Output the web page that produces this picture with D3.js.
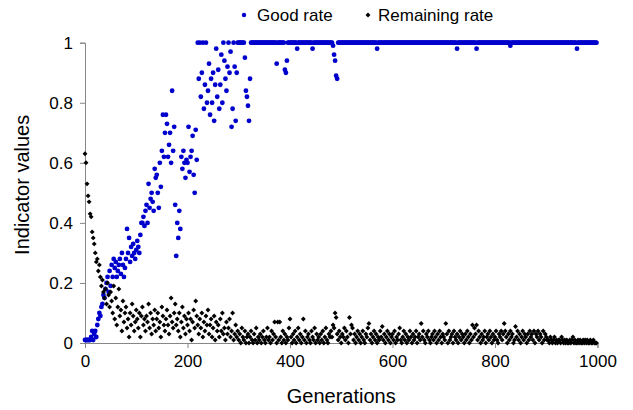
<!DOCTYPE html>
<html>
<head>
<meta charset="utf-8">
<script src="https://cdn.jsdelivr.net/npm/d3@7"></script>
<style>
    body { margin: 0; background: #fff; }
    svg { display: block; font-family: Arial, "Liberation Sans", sans-serif; }
</style>
</head>
<body>
<svg id="chart" width="633" height="410"></svg>
<script>
// values are read every 2 generations (0, 2, 4, ... 998)
var genStep = 2;

var xTicks = [0, 200, 400, 600, 800, 1000];
var yTicks = [0, 0.2, 0.4, 0.6, 0.8, 1];
var seriesNames = ["Good rate", "Remaining rate"];

var goodRate = [
    .01,.01,.01,.01,.01,.01,.02,.04,.01,.03,
    .04,.02,.06,.08,.1,.09,.12,.13,.16,.15,
    .18,.2,.22,.17,.24,.19,.26,.22,.28,.25,
    .27,.22,.24,.26,.28,.23,.3,.26,.22,.25,
    .28,.38,.3,.35,.27,.32,.29,.33,.3,.28,
    .31,.34,.32,.3,.36,.4,.4,.42,.39,.44,
    .46,.4,.53,.45,.48,.5,.47,.44,.58,.55,
    .56,.5,.45,.6,.52,.64,.76,.62,.7,.76,
    .73,.62,.66,.7,.6,.84,.64,.72,.46,.29,
    .4,.35,.44,.38,.62,.58,.64,.6,.55,.61,
    .6,.72,.57,.62,.64,.69,.56,.5,.71,.61,
    1,.88,1,.82,.9,1,.78,.86,1,.8,
    .84,.93,.76,.88,.8,.9,.74,.86,.98,.82,
    .91,.78,.86,.96,.8,1,.94,.88,.84,.92,
    1,.9,.97,.72,.78,1,.92,.74,.9,1,
    1,1,1,1,1,1,.95,.84,.82,.79,
    .74,.88,1,1,1,1,1,1,1,1,
    1,1,1,1,1,1,1,1,1,1,
    1,1,1,1,1,1,1,.93,1,1,
    1,1,1,1,1,.91,.9,.94,1,1,
    1,1,1,1,1,1,1,.98,1,1,
    1,1,1,1,1,1,1,1,1,1,
    1,1,.98,1,1,1,1,1,1,1,
    1,1,1,1,1,1,1,1,1,1,
    1,1,.99,.96,.94,.89,.88,1,1,1,
    1,1,1,1,1,1,1,1,1,1,
    1,1,1,1,1,1,1,1,1,1,
    1,1,1,1,1,1,1,1,1,1,
    1,1,1,1,1,.98,1,1,1,1,
    1,1,1,1,1,1,1,1,1,1,
    1,1,1,1,1,1,1,1,1,1,
    1,1,1,1,1,1,1,1,1,1,
    1,1,1,1,1,1,1,1,1,1,
    1,1,1,1,1,1,1,1,1,1,
    1,1,1,1,1,1,1,1,1,1,
    1,1,1,1,1,1,1,1,1,1,
    1,1,1,.98,1,1,1,1,1,1,
    1,1,1,1,1,1,1,1,1,1,
    1,1,.98,1,1,1,1,1,1,1,
    1,1,1,1,1,1,1,1,1,1,
    1,1,1,1,1,1,1,1,1,1,
    1,1,1,1,1,.99,1,1,1,1,
    1,1,1,1,1,1,1,1,1,1,
    1,1,1,1,1,1,1,1,1,1,
    1,1,1,1,1,1,1,1,1,1,
    1,1,1,1,1,1,1,1,1,1,
    1,1,1,1,1,1,1,1,1,1,
    1,1,1,1,1,1,1,1,1,1,
    .98,1,1,1,1,1,1,1,1,1,
    1,1,1,1,1,1,1,1,1,1
];

var remainingRate = [
    .63,.6,.53,.49,.47,.43,.42,.37,.35,.33,
    .3,.27,.28,.24,.26,.22,.19,.21,.17,.15,
    .18,.13,.2,.16,.12,.17,.14,.1,.19,.08,
    .15,.06,.12,.18,.09,.11,.04,.14,.07,.1,
    .12,.05,.08,.02,.1,.06,.13,.09,.04,.07,
    .11,.08,.05,.1,.02,.09,.12,.06,.08,.04,
    .09,.07,.13,.05,.1,.03,.08,.06,.11,.04,
    .08,.1,.05,.07,.02,.12,.09,.06,.04,.08,
    .11,.06,.03,.09,.15,.07,.05,.1,.13,.06,
    .08,.04,.1,.02,.07,.12,.05,.09,.03,.08,
    .06,.1,.04,.08,.01,.07,.11,.05,.14,.09,
    .06,.03,.08,.05,.1,.02,.07,.04,.09,.06,
    .11,.03,.06,.08,.02,.05,.09,.01,.07,.04,
    .06,.02,.08,.04,.1,.03,.05,.01,.07,.03,
    .05,.08,.02,.04,.1,.01,.03,.06,.02,.04,
    .01,.03,0,.05,.02,.01,.04,0,.02,.03,
    0,.02,.04,.01,0,.03,.01,.05,0,.02,
    .01,.03,0,.02,.04,.01,0,.02,.05,.01,
    .02,0,.04,.01,.03,.07,.02,0,.07,.01,
    .07,.02,0,.04,.01,.03,0,.02,.01,.05,
    .08,.02,0,.03,.01,.04,0,.02,.05,.01,
    .03,0,.02,.08,.01,.04,0,.02,.03,.01,
    0,.04,.02,.01,.05,0,.03,.01,.02,0,
    .03,.01,.04,0,.02,.05,.01,0,.03,.02,
    .04,.02,.06,.05,.1,.085,.03,.01,.04,.02,
    0,.03,.02,.05,.01,.04,.02,0,.085,.03,
    .06,.05,.01,.03,0,.02,.04,.01,.03,0,
    .02,.04,.01,0,.03,.02,.05,.065,.01,.03,
    0,.02,.04,.01,.03,0,.02,.01,.04,.02,
    .055,.01,.03,0,.02,.04,.01,.03,0,.02,
    .03,.01,.04,0,.02,.01,.03,.05,.01,0,
    .02,.04,.01,.03,0,.02,.01,.04,.02,0,
    .03,.01,.02,.04,0,.02,.03,.01,.065,.02,
    .04,.01,0,.03,.02,.04,.01,0,.02,.03,
    .01,.04,.02,0,.03,.01,.04,.02,0,.03,
    .02,.01,.065,.03,0,.04,.01,.02,.03,0,
    .04,.02,.01,.03,0,.02,.04,.01,.03,.02,
    0,.03,.01,.04,.02,0,.03,.01,.06,.02,
    .05,.03,.06,.01,.04,.02,0,.03,.01,.02,
    .04,0,.02,.03,.01,.04,.02,0,.03,.01,
    .02,.04,.01,0,.03,.02,.04,.01,.03,.065,
    .04,.02,0,.03,.01,.04,.02,.03,0,.01,
    .055,.02,.04,.01,.03,0,.02,.04,.01,.03,
    .02,0,.03,.01,.04,.02,.03,.01,.04,0,
    .03,.02,.04,.01,.03,.02,0,.04,.01,.03,
    .02,.01,.01,0,.02,.01,0,.01,.02,0,
    .01,0,.01,.01,0,.02,.01,0,.01,0,
    .01,0,0,.01,0,.01,.02,0,.01,0,
    0,.01,0,.01,0,0,.01,0,.01,0,
    .01,0,0,.01,0,0,.01,0,0,0
];

var blue = "#0000cc";
var axisGrey = "#868686";

var svg = d3.select("#chart");
var plotLeft = 85, plotRight = 597.5, plotTop = 42.7, plotBottom = 343;

var x = d3.scaleLinear().domain([0, 1000]).range([plotLeft, plotRight]);
var y = d3.scaleLinear().domain([0, 1]).range([plotBottom, plotTop]);

var xAxis = svg.append("g")
    .attr("transform", "translate(0," + plotBottom + ")")
    .call(d3.axisBottom(x).tickValues(xTicks).tickSizeOuter(0).tickSize(5).tickPadding(7)
        .tickFormat(function (d) { return String(d); }));

var yAxis = svg.append("g")
    .attr("transform", "translate(" + plotLeft + ",0)")
    .call(d3.axisLeft(y).tickValues(yTicks).tickSizeOuter(0).tickSize(5).tickPadding(7)
        .tickFormat(function (d) { return String(d); }));

[xAxis, yAxis].forEach(function (g) {
    g.selectAll("path, line").attr("stroke", axisGrey);
    g.selectAll("text")
        .attr("fill", "#000")
        .style("font-size", "17px")
        .style("font-family", "Arial, 'Liberation Sans', sans-serif");
});

function toPoints(values) {
    return values.map(function (v, i) { return { gen: i * genStep, value: v }; });
}

svg.append("g").selectAll("circle")
    .data(toPoints(goodRate))
    .enter()
    .append("circle")
    .attr("cx", function (d) { return x(d.gen); })
    .attr("cy", function (d) { return y(d.value); })
    .attr("r", 2.4)
    .attr("fill", blue);

// small diamond = square turned 45 degrees
var diamond = d3.symbol().type(d3.symbolSquare).size(12);

svg.append("g").selectAll("path")
    .data(toPoints(remainingRate))
    .enter()
    .append("path")
    .attr("d", diamond)
    .attr("transform", function (d) { return "translate(" + x(d.gen) + "," + y(d.value) + ") rotate(45)"; })
    .attr("fill", "#000");

// legend
var legend = svg.append("g").style("font-size", "17px");
legend.append("circle").attr("cx", 244).attr("cy", 15).attr("r", 2.2).attr("fill", blue);
legend.append("text").attr("x", 257).attr("y", 21).text(seriesNames[0]);
legend.append("path").attr("d", diamond).attr("transform", "translate(368,15) rotate(45)").attr("fill", "#000");
legend.append("text").attr("x", 378).attr("y", 21).text(seriesNames[1]);

// axis titles
svg.append("text")
    .attr("x", (plotLeft + plotRight) / 2)
    .attr("y", 403)
    .attr("text-anchor", "middle")
    .style("font-size", "20px")
    .text("Generations");

svg.append("text")
    .attr("transform", "translate(29," + ((plotTop + plotBottom) / 2 - 8) + ") rotate(-90)")
    .attr("text-anchor", "middle")
    .style("font-size", "20px")
    .text("Indicator values");
</script>
</body>
</html>
